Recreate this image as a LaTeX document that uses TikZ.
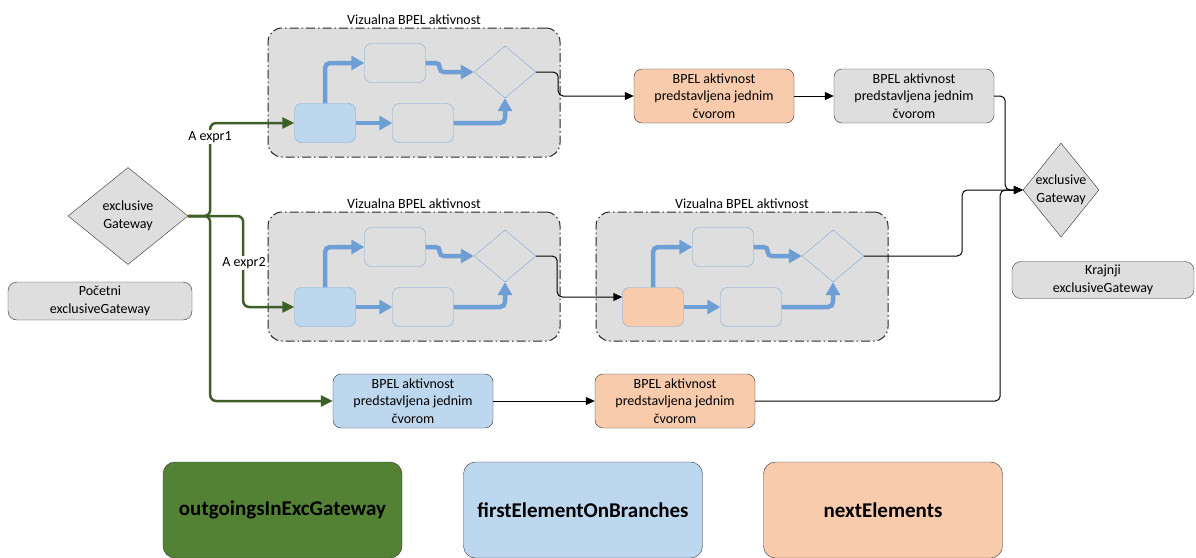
\documentclass[tikz,border=0pt]{standalone}
\usepackage{fontspec}
\setmainfont{Carlito}
\usetikzlibrary{shapes.geometric,arrows.meta,positioning}
\definecolor{bggray}{HTML}{DEDEDE}
\definecolor{firstblue}{HTML}{BDD7EE}
\definecolor{nextorange}{HTML}{F8CBAD}
\definecolor{outgreen}{HTML}{548235}
\definecolor{linegreen}{HTML}{3E5F28}
\definecolor{flowblue}{HTML}{6E9ED6}
\definecolor{edgeblue}{HTML}{7DA7D9}

\begin{document}
\begin{tikzpicture}[x=1pt,y=-1pt,
        txt/.style={font=\fontsize{14}{17.5}\selectfont, align=center},
        actbox/.style={txt, draw=black!80, rounded corners=8pt, minimum width=160pt, minimum height=54pt, inner sep=1pt},
        gwshape/.style={diamond, draw=black!80, fill=bggray, inner sep=0pt},
        grpbox/.style={draw=black!85, line width=1pt, dash pattern=on 9pt off 3pt on 1.5pt off 3pt, fill=bggray, rounded corners=14pt},
        innerbox/.style={draw=edgeblue, fill=bggray, rounded corners=7pt, minimum width=61pt, minimum height=39pt},
        innergw/.style={diamond, draw=edgeblue, fill=bggray, inner sep=0pt, minimum width=62pt, minimum height=52pt},
        flow/.style={flowblue, line width=4.5pt, rounded corners=5pt, -{Triangle[length=13pt,width=14pt]}},
        blk/.style={black, line width=1pt, rounded corners=5pt, -{Triangle[length=9pt,width=8pt]}},
        grn/.style={linegreen, line width=2.5pt, rounded corners=6pt, -{Triangle[length=12pt,width=11pt]}},
        legend/.style={draw=black!80, rounded corners=12pt, minimum width=239pt, minimum height=96pt, font=\fontsize{21}{24}\selectfont\bfseries}]
        \useasboundingbox (0,0) rectangle (1196,557);
        \clip (0,0) rectangle (1196,557);
        \foreach \gx/\gy/\nm/\fc in {268/28/ga/firstblue, 268/212/gb/firstblue, 596/212/gc/nextorange}{
            \node[grpbox, minimum width=292pt, minimum height=129pt] (\nm) at (\gx+146,\gy+64.5) {};
            \node[txt, above=-1pt of \nm] (\nm-title) {Vizualna BPEL aktivnost};
            \node[innerbox, fill=\fc] (\nm-first) at (\gx+57,\gy+95) {};
            \node[innerbox] (\nm-up) at (\gx+127,\gy+35) {};
            \node[innerbox] (\nm-low) at (\gx+155,\gy+95) {};
            \node[innergw] (\nm-gw) at (\gx+237,\gy+44) {};
            \draw[flow] (\nm-first.north) |- (\nm-up.west);
            \draw[flow, rounded corners=4pt] (\nm-up.east) -- ++(14,0) |- (\nm-gw.west);
            \draw[flow] (\nm-first.east) -- (\nm-low.west);
            \draw[flow] (\nm-low.east) -| (\nm-gw.south);
        }
        \node[gwshape, minimum width=120pt, minimum height=97pt, label={[txt]center:exclusive\\Gateway}] (startgw) at (128,216) {};
        \node[actbox, fill=bggray, minimum width=184pt, minimum height=38pt, rounded corners=9pt] (startlbl) at (100,301) {Početni\\exclusiveGateway};
        \node[gwshape, minimum width=76pt, minimum height=94pt, label={[txt]center:exclusive\\Gateway}] (endgw) at (1061,190) {};
        \node[actbox, fill=bggray, minimum width=182pt, minimum height=37pt, rounded corners=9pt] (endlbl) at (1103,280) {Krajnji\\exclusiveGateway};
        \node[actbox, fill=nextorange] (actA) at (714,96) {BPEL aktivnost\\predstavljena jednim\\čvorom};
        \node[actbox, fill=bggray] (actB) at (914,96) {BPEL aktivnost\\predstavljena jednim\\čvorom};
        \node[actbox, fill=firstblue] (actC) at (413,401) {BPEL aktivnost\\predstavljena jednim\\čvorom};
        \node[actbox, fill=nextorange] (actD) at (675,401) {BPEL aktivnost\\predstavljena jednim\\čvorom};
        \draw[grn] (startgw.east) -- ++(22,0) |- (ga-first.west);
        \draw[grn] (startgw.east) -- ++(55,0) |- (gb-first.west);
        \draw[grn] (startgw.east) -- ++(22,0) |- (actC.west);
        \node[txt, fill=white, inner sep=1pt] (expr1) at (210,137) {A expr1};
        \node[txt, fill=white, inner sep=1pt] (expr2) at (244,263) {A expr2};
        \draw[blk] (ga-gw.east) -- ++(22,0) |- (actA.west);
        \draw[blk] (actA.east) -- (actB.west);
        \draw[blk] (actB.east) -- ++(11,0) |- (endgw.west);
        \draw[blk] (gb-gw.east) -- ++(21,0) |- ([yshift=10pt]gc-first.west);
        \draw[blk] (gc-gw.east) -- ++(98,0) |- (endgw.west);
        \draw[blk] (actC.east) -- (actD.west);
        \draw[blk] (actD.east) -- ++(245,0) |- (endgw.west);
        \node[legend, fill=outgreen] (lgout) at (282.5,510) {outgoingsInExcGateway};
        \node[legend, fill=firstblue] (lgfirst) at (583,510) {firstElementOnBranches};
        \node[legend, fill=nextorange] (lgnext) at (883,510) {nextElements};
\end{tikzpicture}
\end{document}
